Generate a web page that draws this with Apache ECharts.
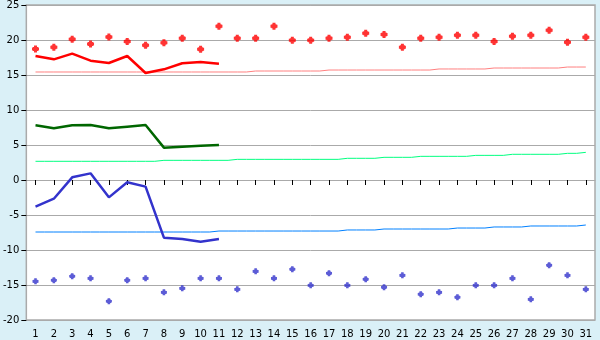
<!DOCTYPE html>
<html><head><meta charset="utf-8">
<script src="https://cdn.jsdelivr.net/npm/echarts@6/dist/echarts.min.js"></script>
<style>html,body{margin:0;padding:0;background:#daf0f7;}#c{width:600px;height:340px;}</style>
</head><body><div id="c"></div>
<script>
const days = Array.from({length:31},(_,i)=>String(i+1));
const yTicks = [-20,-15,-10,-5,0,5,10,15,20,25];
const maxRecord = [18.7,18.95,20.1,19.43,20.43,19.8,19.24,19.6,20.24,18.67,21.95,20.24,20.24,21.95,19.95,19.95,20.24,20.38,20.95,20.8,18.95,20.24,20.38,20.67,20.67,19.8,20.52,20.67,21.38,19.67,20.38];
const maxDaily = [17.71,17.24,18.05,17.05,16.71,17.71,15.29,15.81,16.67,16.86,16.62];
const maxNormal = [15.43,15.43,15.43,15.43,15.43,15.43,15.43,15.43,15.43,15.43,15.43,15.43,15.57,15.57,15.57,15.57,15.71,15.71,15.71,15.71,15.71,15.71,15.86,15.86,15.86,16.0,16.0,16.0,16.0,16.14,16.14];
const meanDaily = [7.81,7.38,7.81,7.86,7.38,7.62,7.86,4.62,4.76,4.9,5.0];
const meanNormal = [2.67,2.67,2.67,2.67,2.67,2.67,2.67,2.81,2.81,2.81,2.81,2.95,2.95,2.95,2.95,2.95,2.95,3.1,3.1,3.24,3.24,3.38,3.38,3.38,3.52,3.52,3.67,3.67,3.67,3.81,3.95];
const minDaily = [-3.81,-2.67,0.38,0.95,-2.48,-0.33,-0.95,-8.24,-8.43,-8.81,-8.43];
const minNormal = [-7.43,-7.43,-7.43,-7.43,-7.43,-7.43,-7.43,-7.43,-7.43,-7.43,-7.29,-7.29,-7.29,-7.29,-7.29,-7.29,-7.29,-7.14,-7.14,-7.0,-7.0,-7.0,-7.0,-6.86,-6.86,-6.71,-6.71,-6.57,-6.57,-6.57,-6.43];
const minRecord = [-14.48,-14.33,-13.76,-14.05,-17.33,-14.33,-14.05,-16.05,-15.48,-14.05,-14.05,-15.62,-13.05,-14.05,-12.76,-15.05,-13.33,-15.05,-14.19,-15.33,-13.62,-16.33,-16.05,-16.76,-15.05,-15.05,-14.05,-17.05,-12.19,-13.62,-15.62];

const plus = 'path://M2,0H5V1.5H6V2H7V5H6V5.5H5V7H2V5.5H1V5H0V2H1V1.5H2Z';
const font = {fontFamily:'DejaVu Sans', fontSize:10, color:'#000'};
const chart = echarts.init(document.getElementById('c'), null, {renderer:'canvas'});
chart.setOption({
  animation:false,
  backgroundColor:'#daf0f7',
  grid:{left:26,right:5,top:5,bottom:20,show:true,backgroundColor:'#fff',borderColor:'#aaa',borderWidth:1.5},
  xAxis:{type:'category',data:days,boundaryGap:true,
    axisLine:{show:true,lineStyle:{color:'#aaa',width:1}},
    axisTick:{show:true,alignWithLabel:true,length:5,lineStyle:{color:'#000'}},
    axisLabel:Object.assign({margin:9,interval:0},font),
    splitLine:{show:false}},
  yAxis:{type:'value',min:yTicks[0],max:yTicks[yTicks.length-1],interval:5,
    axisLine:{show:true,lineStyle:{color:'#aaa'}},
    axisTick:{show:true,length:5,lineStyle:{color:'#000'}},
    axisLabel:Object.assign({margin:7},font),
    splitLine:{show:true,lineStyle:{color:'#aaa',width:1}}},
  series:[
    {type:'line',data:maxNormal,step:'middle',symbol:'none',lineStyle:{color:'#ff8080',width:1}},
    {type:'line',data:meanNormal,step:'middle',symbol:'none',lineStyle:{color:'#00ff80',width:1}},
    {type:'line',data:minNormal,step:'middle',symbol:'none',lineStyle:{color:'#0080ff',width:1}},
    {type:'line',data:maxDaily,symbol:'none',lineStyle:{color:'#ff0000',width:2.5}},
    {type:'line',data:meanDaily,symbol:'none',lineStyle:{color:'#006600',width:2.5}},
    {type:'line',data:minDaily,symbol:'none',lineStyle:{color:'#3333cc',width:2.5}},
    {type:'scatter',data:maxRecord,symbol:plus,symbolSize:7,itemStyle:{color:'#ff0000'}},
    {type:'scatter',data:minRecord,symbol:plus,symbolSize:6,itemStyle:{color:'#3333cc'}}
  ]
});
</script></body></html>
